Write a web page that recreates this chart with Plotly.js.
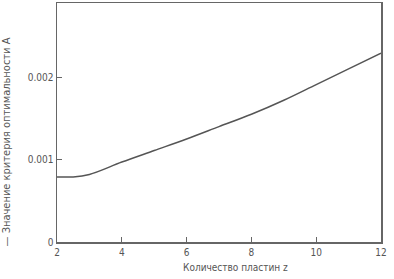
<!DOCTYPE html>
<html><head><meta charset="utf-8">
<script src="https://cdn.plot.ly/plotly-3.0.1.min.js"></script>
<style>html,body{margin:0;padding:0;background:#fff}#c{width:394px;height:279px}</style>
</head><body><div id="c"></div>
<script>
const plates = [2, 2.5, 3, 4, 5, 6, 7, 8, 9, 10, 11, 12];
const criterion = [0.00079, 0.00079, 0.00082, 0.00097, 0.00111, 0.00125, 0.0014, 0.00155, 0.00172, 0.00191, 0.0021, 0.00229];
const xTicks = [2, 4, 6, 8, 10, 12];
const yTicks = [0, 0.001, 0.002];
const yTickText = ['0', '0.001', '0.002'];
const xTitle = 'Количество пластин z';
const yTitle = '— Значение критерия оптимальности А';

const fontFam = 'DejaVu Sans Condensed, Liberation Sans Narrow, sans-serif';
Plotly.newPlot('c', [{
  x: plates, y: criterion, type: 'scatter', mode: 'lines',
  line: {color: '#555', width: 1.5, shape: 'spline', smoothing: 1}
}], {
  width: 394, height: 279,
  margin: {l: 57, r: 13, t: 3, b: 37},
  paper_bgcolor: '#fff', plot_bgcolor: '#fff',
  showlegend: false,
  font: {family: fontFam, color: '#555', size: 10},
  xaxis: {
    range: [2, 12], tickvals: xTicks, ticks: 'inside', ticklen: 5, tickwidth: 1, tickcolor: '#666',
    showline: true, linecolor: '#666', linewidth: 1.5, mirror: true, showgrid: false, zeroline: false,
    tickfont: {size: 10, color: '#555'}
  },
  yaxis: {
    range: [0, 0.0029], tickvals: yTicks, ticktext: yTickText, ticks: 'inside', ticklen: 5, tickwidth: 1, tickcolor: '#666',
    showline: true, linecolor: '#666', linewidth: 1.5, mirror: true, showgrid: false, zeroline: false,
    tickfont: {size: 10, color: '#555'}
  },
  annotations: [{
    text: yTitle, xref: 'paper', yref: 'paper', x: -0.155, y: 0.42,
    xanchor: 'center', yanchor: 'middle', textangle: -90, showarrow: false,
    font: {size: 11, color: '#555', family: fontFam}
  }, {
    text: xTitle, xref: 'paper', yref: 'paper', x: 0.55, y: -0.075,
    xanchor: 'center', yanchor: 'top', showarrow: false,
    font: {size: 10, color: '#555', family: fontFam}
  }]
}, {displayModeBar: false, staticPlot: true});
</script></body></html>
